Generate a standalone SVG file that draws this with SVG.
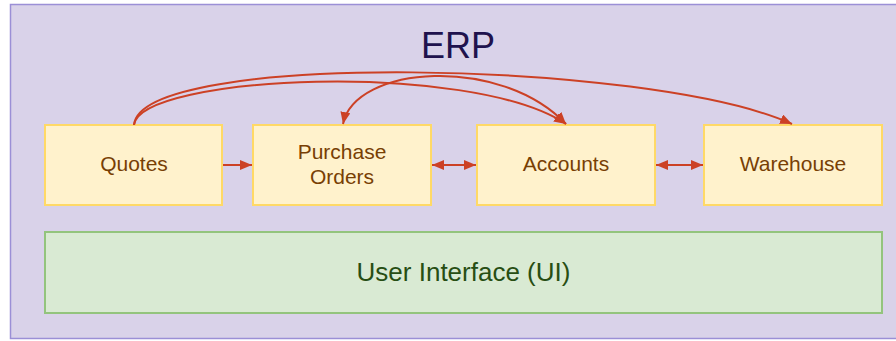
<svg xmlns="http://www.w3.org/2000/svg" width="896" height="341" viewBox="0 0 896 341">
  <defs>
    <marker id="arrow" markerUnits="userSpaceOnUse" markerWidth="13" markerHeight="11" refX="12" refY="5" orient="auto-start-reverse">
      <path d="M0,0 L12,5 L0,10 z" fill="#cc4125"/>
    </marker>
    <style>
      .frame { fill: #d9d2e9; stroke: #9b8fd6; stroke-width: 1.5; }
      .module rect { fill: #fff2cc; stroke: #ffd966; stroke-width: 2; }
      .module text { font-family: "Liberation Sans", Arial, sans-serif; font-size: 21px; fill: #783f04; text-anchor: middle; }
      .ui rect { fill: #d9ead3; stroke: #93c47d; stroke-width: 2; }
      .ui text { font-family: "Liberation Sans", Arial, sans-serif; font-size: 26px; fill: #274e13; text-anchor: middle; }
      .title { font-family: "Liberation Sans", Arial, sans-serif; font-size: 36px; fill: #20124d; text-anchor: middle; }
      .link { fill: none; stroke: #cc4125; stroke-width: 2; }
    </style>
  </defs>

  <!-- ERP container -->
  <g id="erp">
    <rect class="frame" x="10.5" y="4.5" width="900" height="334"/>
    <text class="title" x="458" y="58">ERP</text>
  </g>

  <!-- Modules -->
  <g id="quotes" class="module">
    <rect x="45" y="125" width="177" height="80"/>
    <text x="134" y="171">Quotes</text>
  </g>
  <g id="purchase-orders" class="module">
    <rect x="253" y="125" width="178" height="80"/>
    <text x="342" y="159">Purchase</text>
    <text x="342" y="184">Orders</text>
  </g>
  <g id="accounts" class="module">
    <rect x="477" y="125" width="178" height="80"/>
    <text x="566" y="171">Accounts</text>
  </g>
  <g id="warehouse" class="module">
    <rect x="704" y="125" width="178" height="80"/>
    <text x="793" y="171">Warehouse</text>
  </g>

  <!-- User interface layer -->
  <g id="user-interface" class="ui">
    <rect x="45" y="232" width="837" height="81"/>
    <text x="463.5" y="281">User Interface (UI)</text>
  </g>

  <!-- Connectors -->
  <g id="connectors">
    <line class="link" x1="223" y1="165" x2="252" y2="165" marker-end="url(#arrow)"/>
    <line class="link" x1="432" y1="165" x2="476" y2="165" marker-start="url(#arrow)" marker-end="url(#arrow)"/>
    <line class="link" x1="656" y1="165" x2="703" y2="165" marker-start="url(#arrow)" marker-end="url(#arrow)"/>
    <path class="link" d="M134,125 C140,50 650,60 792,124" marker-end="url(#arrow)"/>
    <path class="link" d="M134,125 C140,75 470,60 566,124" marker-end="url(#arrow)"/>
    <path class="link" d="M343,124 C355,65 500,55 566,124" marker-start="url(#arrow)" marker-end="url(#arrow)"/>
  </g>
</svg>
